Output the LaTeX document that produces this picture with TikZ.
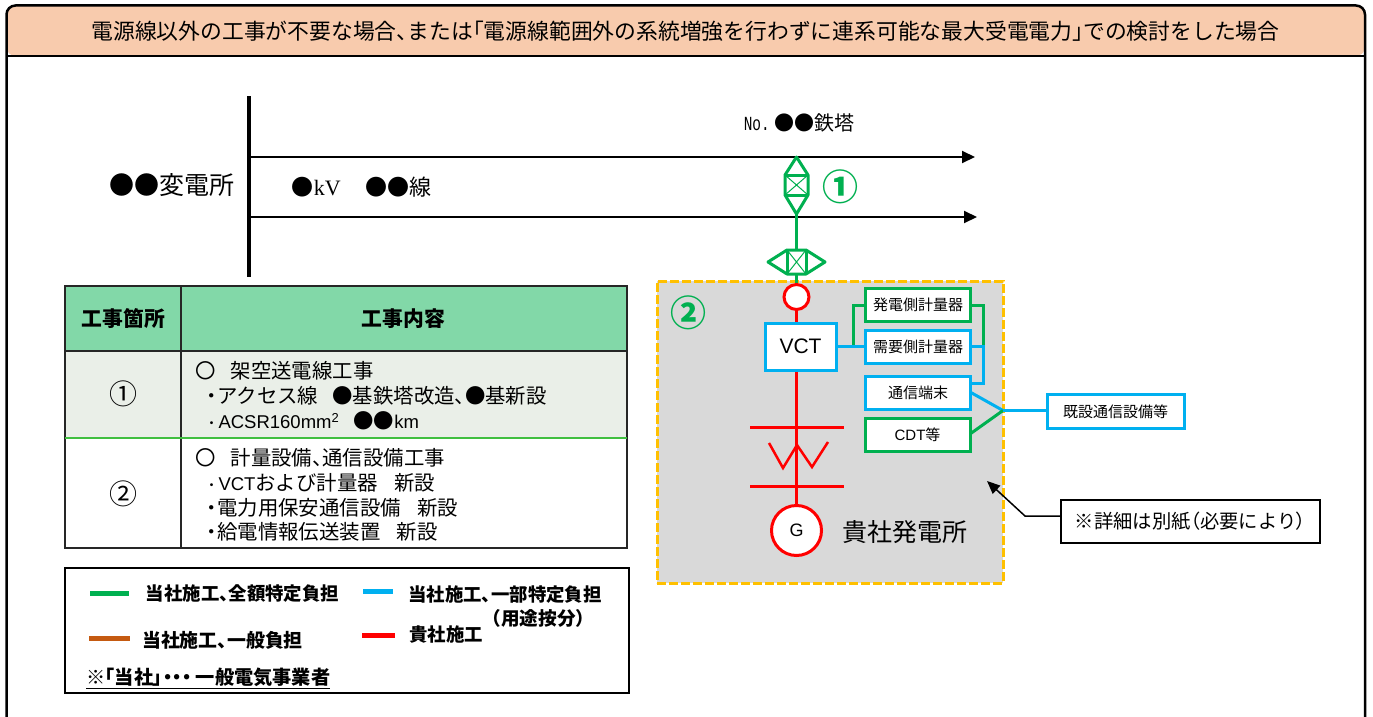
\documentclass[tikz,border=0pt]{standalone}
\usepackage{fontspec}
\setmainfont{Liberation Sans}
\newfontfamily\jp{Noto Sans CJK JP}
\newfontfamily\jpp[RawFeature=+palt]{Noto Sans CJK JP}
\newcommand{\pa}[1]{{\jpp #1}}
\usetikzlibrary{arrows.meta,calc}
\definecolor{hdr}{HTML}{F8CBAD}
\definecolor{tblhead}{HTML}{82D8A8}
\definecolor{tblrow}{HTML}{EAEFE8}
\definecolor{cgreen}{HTML}{00B050}
\definecolor{cblue}{HTML}{00B0F0}
\definecolor{cbrown}{HTML}{C55A11}
\definecolor{cred}{HTML}{FF0000}
\definecolor{corange}{HTML}{FFC000}
\definecolor{cgray}{HTML}{D9D9D9}
\newcommand{\fs}[1]{\fontsize{#1}{#1}\selectfont}
\tikzset{
  x=1pt,y=-1pt,
  txt/.style={inner sep=0pt,outer sep=0pt,text=black,font=\jp\fs{#1}},
  btxt/.style={inner sep=0pt,outer sep=0pt,text=black,font=\jp\bfseries\fs{#1}},
  ltxt/.style={inner sep=0pt,outer sep=0pt,text=black,anchor=west,font=\jp\fs{20.4}},
  lgline/.style={line width=5pt},
  feed/.style={line width=3pt},
  gbox/.style={draw=cgreen,line width=3pt,fill=white,inner sep=0pt,minimum width=105pt,minimum height=33pt,font=\jp\fs{15}},
  bbox/.style={draw=cblue,line width=3pt,fill=white,inner sep=0pt,minimum width=105pt,minimum height=33pt,font=\jp\fs{15}},
  wire/.style={line width=2pt,-{Triangle[length=13pt,width=12pt]}},
  tower/.style={draw=cgreen,line width=3pt,line join=round},
  towerthin/.style={draw=cgreen,line width=1pt},
  redline/.style={draw=cred,line width=3.5pt},
}
\begin{document}
\begin{tikzpicture}
\useasboundingbox (0,0) rectangle (1373,717);
% frame
\fill[white] (0,0) rectangle (1373,717);
\fill[hdr,rounded corners=9pt] (6.5,5.5) -- (1365,5.5) -- (1365,56) -- (6.5,56) -- cycle;
\draw[line width=2.5pt,rounded corners=9pt] (6.5,730) -- (6.5,5.5) -- (1365,5.5) -- (1365,730);
\draw[line width=2.5pt] (6.5,56) -- (1365,56);
\node[txt=21.8] (title) at (685.5,31.5) {電源線以外の工事が不要な場合\pa{、}または\pa{「}電源線範囲外の系統増強を行わずに連系可能な最大受電電力\pa{」}での検討をした場合};
% substation
\coordinate (busT) at (249,96);
\coordinate (busB) at (249,277);
\draw[line width=3.5pt] (busT) -- (busB);
\coordinate (w1a) at (249,157); \coordinate (w1b) at (975,157);
\coordinate (w2a) at (249,217); \coordinate (w2b) at (977,217);
\draw[wire] (w1a) -- (w1b);
\draw[wire] (w2a) -- (w2b);
\node[txt=25] (sub) at (172,185) {●●変電所};
\node[txt=22] (line) at (361.5,187) {●{\fontspec{Liberation Serif}kV}\hspace{1.1em}●●線};
\node[txt=20] (tower) at (799,123) {{\fontspec{Liberation Mono}\fs{20}\scalebox{.72}[1]{No.}} ●●鉄塔};
\node[txt=36,text=cgreen,font=\jp\bfseries\fs{36}] (n1) at (840,187) {①};
% gray area
\node[draw=corange,fill=cgray,line width=3pt,dash pattern=on 9pt off 3pt,inner sep=0pt,minimum width=346pt,minimum height=302pt] (area) at (830,432) {};
\node[txt=36,text=cgreen,font=\jp\bfseries\fs{36}] (n2) at (688,313) {②};
% tower symbols
\coordinate (tTop) at (796.5,157); \coordinate (tBot) at (796.5,214);
\coordinate (hL) at (768,262); \coordinate (hR) at (825,262);
\draw[tower] (tTop) -- (785,175) -- (785,195) -- (tBot) -- (808,195) -- (808,175) -- cycle;
\draw[tower] (785,175) -- (808,175) (785,195) -- (808,195);
\draw[towerthin] (785,175) -- (808,195) (808,175) -- (785,195);
\draw[tower] (hL) -- (787,250) -- (806,250) -- (hR) -- (806,274) -- (787,274) -- cycle;
\draw[tower] (787,250) -- (787,274) (806,250) -- (806,274);
\draw[towerthin] (787,250) -- (806,274) (806,250) -- (787,274);
\draw[feed,cgreen] (tBot) -- (796.5,250);
\draw[feed,cgreen] (796.5,274) -- (796.5,286);
% single line
\node[draw=cred,fill=white,line width=3pt,circle,minimum size=25pt,inner sep=0pt] (ct) at (796.5,297) {};
\node[draw=cblue,fill=white,line width=3pt,inner sep=0pt,minimum width=71pt,minimum height=47pt,font=\fs{21}] (vct) at (800.5,346.5) {VCT};
\node[draw=cred,fill=white,line width=3pt,circle,minimum size=50pt,inner sep=0pt,font=\fs{18}] (gen) at (796.5,530.5) {G};
\draw[redline] (ct) -- (vct.north -| ct);
\draw[redline] (vct.south -| ct) -- (gen);
\coordinate (b1l) at (750,427); \coordinate (b1r) at (844,427);
\coordinate (b2l) at (750,486); \coordinate (b2r) at (844,486);
\draw[redline,line width=3pt] (b1l) -- (b1r);
\draw[redline,line width=3pt] (b2l) -- (b2r);
\draw[draw=cred,line width=2.5pt] (769,443) -- (783,468) -- (797,445) -- (812,467) -- (828,442);
\node[txt=25] (plant) at (904.5,532) {貴社発電所};
% equipment
\node[gbox] (mg) at (918,305) {発電側計量器};
\node[bbox] (mb) at (918,347) {需要側計量器};
\node[bbox] (tc) at (918,393) {通信端末};
\node[gbox] (cdt) at (917.5,435) {{\fontspec{Liberation Sans}CDT}等};
\node[bbox,minimum width=137pt,minimum height=34pt] (ex) at (1115.5,411.5) {既設通信設備等};
\coordinate (j1) at (853,346.5);
\coordinate (j2) at (983.5,346.5);
\coordinate (j3) at (1003,410.5);
\draw[feed,cgreen] (j1) |- (mg.west);
\draw[feed,cgreen] (mg.east) -| (j2);
\draw[feed,cblue] (vct.east |- j1) -- (mb.west |- j1);
\draw[feed,cblue] (mb.east |- j2) -- (j2) |- (tc.east |- 0,383);
\draw[feed,cblue] (970,392) -- (j3);
\draw[feed,cgreen] (970,434) -- (j3);
\draw[feed,cblue] (j3) -- (ex.west |- j3);
% callout
\node[draw=black,line width=1.5pt,fill=white,inner sep=0pt,minimum width=259pt,minimum height=43pt,font=\jp\fs{19.3}] (note) at (1190.5,521.5) {※詳細は別紙\pa{（}必要により\pa{）}};
\coordinate (bend) at (1025,516);
\coordinate (tip) at (987,481);
\draw[line width=1.5pt,-{Triangle[length=13pt,width=11pt]}] (note.west |- bend) -- (bend) -- (tip);
% table
\fill[tblhead] (65,286) rectangle (627,351);
\fill[tblrow] (65,351) rectangle (627,438);
\draw[line width=1.5pt,draw=black!85] (65,286) rectangle (627,548);
\draw[line width=1.5pt,draw=black!85] (181,286) -- (181,548);
\draw[line width=1.5pt,draw=black!85] (65,351) -- (627,351);
\draw[line width=1.2pt,draw=green!50!gray] (65,438) -- (627,438);
\node[btxt=20.8] (h1) at (123.5,318.5) {工事箇所};
\node[btxt=20.8] (h2) at (403.5,318.5) {工事内容};
\node[txt=28] (r1) at (123,394) {①};
\node[txt=28] (r2) at (123,494) {②};
\node[ltxt] (a1) at (195,371) {〇\hspace{.75em}架空送電線工事};
\node[ltxt] (a2) at (207,396) {\pa{・}アクセス線\hspace{.7em}●基鉄塔改造\pa{、}●基新設};
\node[ltxt] (a3) at (204.5,421) {{\fs{14}・}{\fontspec{Liberation Sans}\fs{18.5}ACSR160mm\textsuperscript{2}}\hspace{.7em}●●{\fontspec{Liberation Sans}\fs{18.5}km}};
\node[ltxt] (b1) at (195,458) {〇\hspace{.75em}計量設備\pa{、}通信設備工事};
\node[ltxt] (b2) at (204.5,483) {{\fs{14}・}{\fontspec{Liberation Sans}\fs{18.5}VCT}および計量器\hspace{.8em}新設};
\node[ltxt] (b3) at (207,508) {\pa{・}電力用保安通信設備\hspace{.8em}新設};
\node[ltxt] (b4) at (207,532) {\pa{・}給電情報伝送装置\hspace{.8em}新設};
% legend
\node[draw=black,line width=1.5pt,inner sep=0pt,minimum width=564pt,minimum height=125pt] (legend) at (347,630.5) {};
\coordinate (lg1a) at (90,593); \coordinate (lg1b) at (129,593);
\coordinate (lg2a) at (363,591); \coordinate (lg2b) at (393,591);
\coordinate (lg3a) at (89,638); \coordinate (lg3b) at (130,638);
\coordinate (lg4a) at (362,635); \coordinate (lg4b) at (395,635);
\draw[lgline,cgreen] (lg1a) -- (lg1b);
\draw[lgline,cblue] (lg2a) -- (lg2b);
\draw[lgline,cbrown] (lg3a) -- (lg3b);
\draw[lgline,cred] (lg4a) -- (lg4b);
\node[btxt=18.4] (t1) at (242.5,594) {当社施工\pa{、}全額特定負担};
\node[btxt=18.4] (t2) at (505,595) {当社施工\pa{、}一部特定負担};
\node[btxt=18.6] (t2b) at (538.5,618) {（用途按分）};
\node[btxt=18.9] (t3) at (222.5,640) {当社施工\pa{、}一般負担};
\node[btxt=18.4] (t4) at (446,635) {貴社施工};
\node[btxt=19.2,anchor=west] (t5) at (86,678) {\underline{※\pa{「}当社\pa{」・・・} 一般電気事業者}};
\end{tikzpicture}
\end{document}
